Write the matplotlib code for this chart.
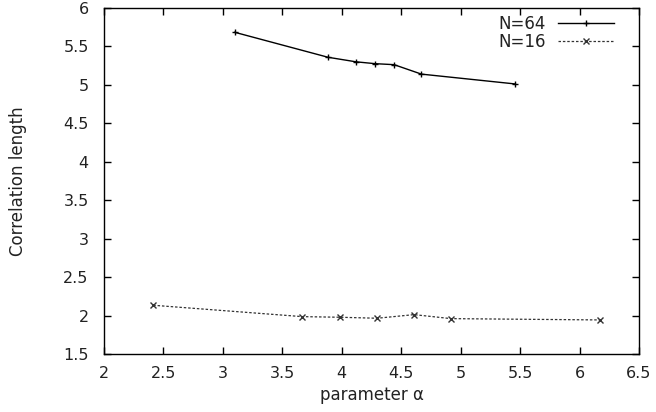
import matplotlib
matplotlib.use("Agg")
import matplotlib.pyplot as plt

# data
alpha_64 = [3.10, 3.885, 4.12, 4.28, 4.44, 4.67, 5.46]
corr_64 = [5.684, 5.359, 5.30, 5.276, 5.263, 5.14, 5.012]
alpha_16 = [2.414, 3.669, 3.983, 4.297, 4.608, 4.92, 6.176]
corr_16 = [2.134, 1.986, 1.978, 1.965, 2.012, 1.96, 1.943]
xticks = [2, 2.5, 3, 3.5, 4, 4.5, 5, 5.5, 6, 6.5]
yticks = [1.5, 2, 2.5, 3, 3.5, 4, 4.5, 5, 5.5, 6]
xtick_labels = ["2", "2.5", "3", "3.5", "4", "4.5", "5", "5.5", "6", "6.5"]
ytick_labels = ["1.5", "2", "2.5", "3", "3.5", "4", "4.5", "5", "5.5", "6"]

plt.rcParams['font.family'] = ['DejaVu Sans']
fig = plt.figure(figsize=(6.56, 4.12), dpi=100)
ax = fig.add_axes([104/656, 1-354/412, (639-104)/656, (354-8)/412])

ax.plot(alpha_64, corr_64, color='black', lw=1.0, marker='+', ms=5, mew=1.0, label='N=64')
ax.plot(alpha_16, corr_16, color='#333333', lw=0.9, ls=(0, (2.0, 1.5)), marker='x', ms=4, mew=1.0, label='N=16')

ax.set_xlim(2, 6.5)
ax.set_ylim(1.5, 6)
ax.set_xticks(xticks)
ax.set_xticklabels(xtick_labels)
ax.set_yticks(yticks)
ax.set_yticklabels(ytick_labels)
ax.tick_params(direction='in', length=5, width=1, top=True, right=True, labelsize=11.5, colors='black')
ax.tick_params(axis='y', pad=11)
ax.tick_params(axis='x', pad=9)
ax.tick_params(axis='both', labelcolor='#222222')
for s in ax.spines.values():
    s.set_linewidth(1.0)

ax.set_xlabel('parameter α', fontsize=12, labelpad=3, color='#222222')
ax.set_ylabel('Correlation length', fontsize=12, labelpad=26, color='#222222')

leg = ax.legend(loc='upper right', bbox_to_anchor=(0.9755, 1.013), frameon=False, markerfirst=False,
                fontsize=12, handlelength=3.4, handletextpad=0.7, labelspacing=0.0, borderpad=0.2)
for t in leg.get_texts():
    t.set_color('#222222')

fig.savefig('out.png', dpi=100)
